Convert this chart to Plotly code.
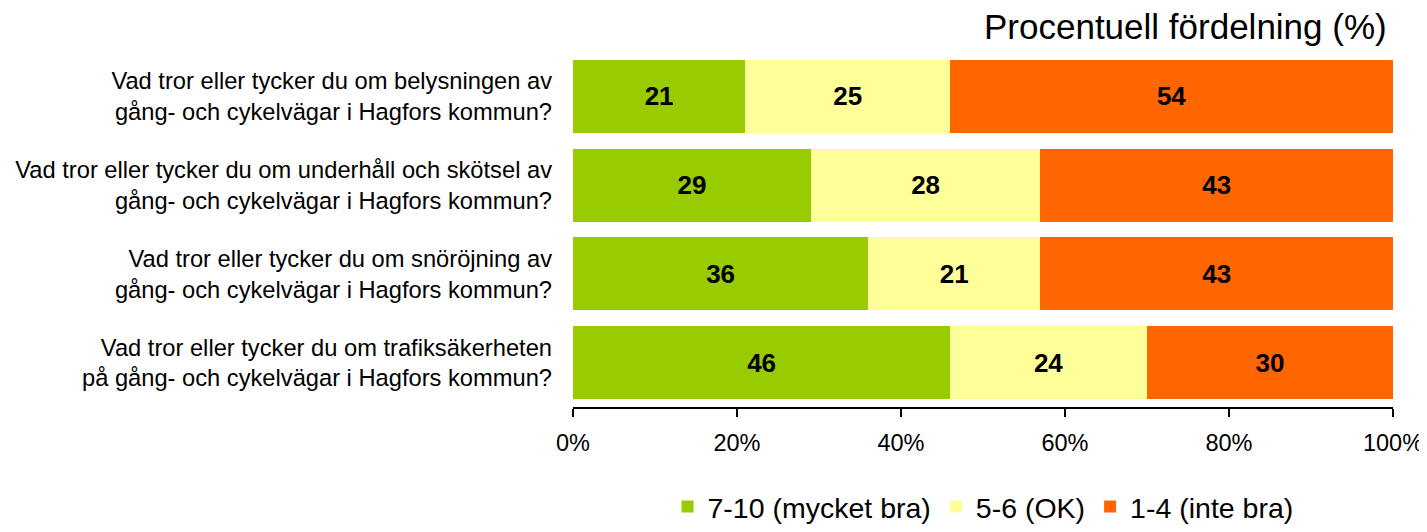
import plotly.graph_objects as go

questions = [
    "Vad tror eller tycker du om belysningen av<br>gång- och cykelvägar i Hagfors kommun?",
    "Vad tror eller tycker du om underhåll och skötsel av<br>gång- och cykelvägar i Hagfors kommun?",
    "Vad tror eller tycker du om snöröjning av<br>gång- och cykelvägar i Hagfors kommun?",
    "Vad tror eller tycker du om trafiksäkerheten<br>på gång- och cykelvägar i Hagfors kommun?",
]
series_names = ["7-10 (mycket bra)", "5-6 (OK)", "1-4 (inte bra)"]
good = [21, 29, 36, 46]
ok = [25, 28, 21, 24]
bad = [54, 43, 43, 30]
colors = ["#99CC00", "#FFFF99", "#FF6600"]
tick_vals = [0, 20, 40, 60, 80, 100]
tick_text = ["0%", "20%", "40%", "60%", "80%", "100%"]

FONT = "Liberation Sans, Arial, Helvetica"

fig = go.Figure()
for name, vals, col in zip(series_names, [good, ok, bad], colors):
    fig.add_trace(go.Bar(
        y=questions, x=vals, name=name, orientation="h",
        marker=dict(color=col, line=dict(width=0)),
        text=[str(v) for v in vals], textposition="inside",
        insidetextanchor="middle",
        textfont=dict(family=FONT, size=26, color="black", weight="bold"),
    ))

fig.update_layout(
    barmode="stack",
    bargap=0.18,
    width=1427, height=532,
    margin=dict(l=565, r=42, t=44, b=133, autoexpand=False),
    paper_bgcolor="white", plot_bgcolor="white",
    font=dict(family=FONT, size=23.7, color="black"),
    uniformtext=dict(mode="show", minsize=26),
    legend=dict(
        orientation="h", x=0.5, xanchor="center",
        yref="container", y=0.062, yanchor="middle",
        font=dict(size=28.5), traceorder="normal", itemwidth=30,
    ),
    annotations=[dict(
        text="Procentuell fördelning (%)", xref="paper", yref="paper",
        x=0.995, y=1.0, xanchor="right", yanchor="middle", yshift=26,
        showarrow=False, font=dict(size=35, color="black"),
    )],
)
fig.update_xaxes(
    range=[0, 100], tickvals=tick_vals, ticktext=tick_text,
    showgrid=False, zeroline=False, showline=True, linecolor="black", linewidth=1.5,
    ticks="outside", ticklen=8, tickcolor="black", tickwidth=1.5,
    tickfont=dict(size=23.5), ticklabelstandoff=6, automargin=False,
)
fig.update_yaxes(
    autorange="reversed", showgrid=False, showline=False, automargin=False,
    ticks="", ticklabelstandoff=20, tickfont=dict(size=23.7),
)

fig.write_html("out.html")
